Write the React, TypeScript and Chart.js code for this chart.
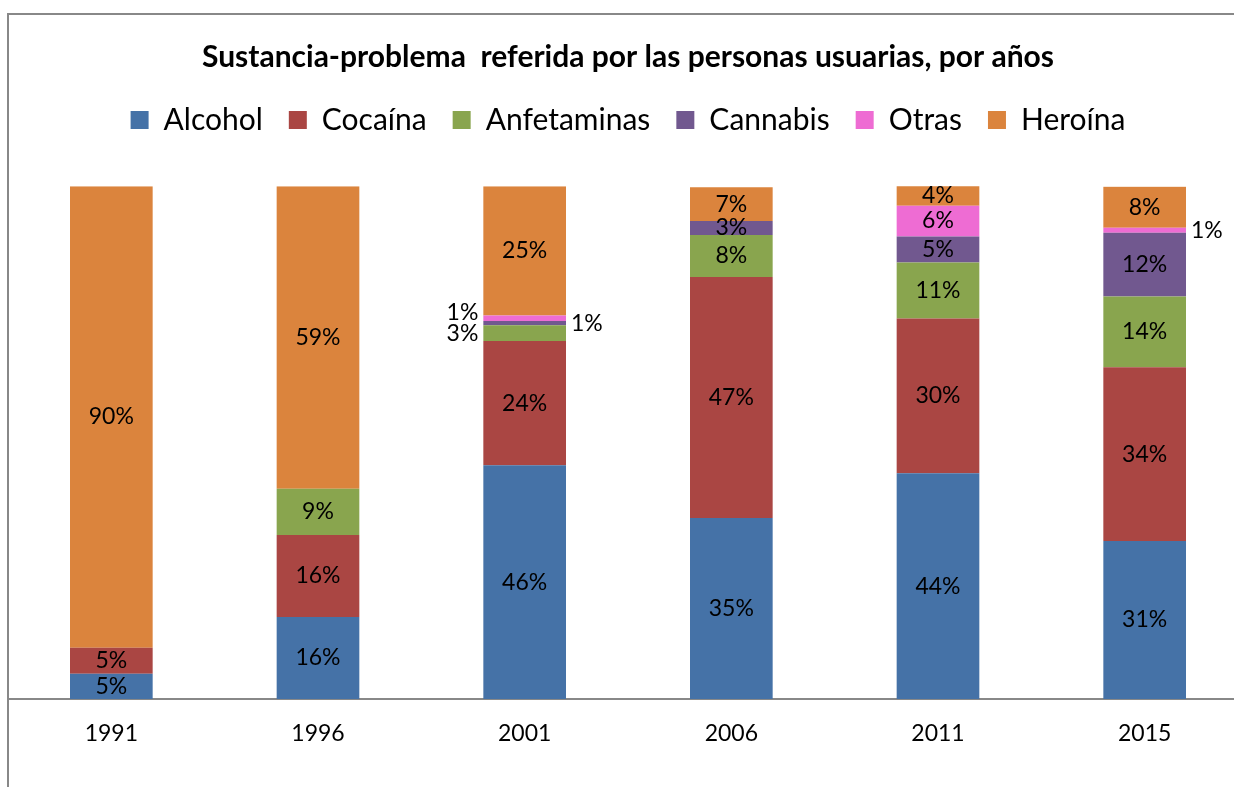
import React, { useEffect, useRef } from 'react';
import { Chart, registerables } from 'chart.js';

Chart.register(...registerables);

const FONT = 'Lato, "Open Sans", sans-serif';

const years = ['1991', '1996', '2001', '2006', '2011', '2015'];
const alcohol = [4.9, 16, 45.6, 35.3, 44, 30.8];
const cocaina = [5.1, 16, 24.2, 47, 30.2, 33.9];
const anfetaminas = [0, 9, 3.1, 8.2, 10.9, 13.8];
const cannabis = [0, 0, 0.8, 2.7, 5.1, 12.4];
const otras = [0, 0, 1.1, 0, 6, 1];
const heroina = [90, 59, 25.2, 6.6, 4.1, 8];

const seriesNames = ['Alcohol', 'Cocaína', 'Anfetaminas', 'Cannabis', 'Otras', 'Heroína'];
const seriesValues = [alcohol, cocaina, anfetaminas, cannabis, otras, heroina];
const seriesColors = ['#4572A7', '#AA4643', '#89A54E', '#71588F', '#EE6CD3', '#DB843D'];

// labels placed beside the bar (segment too thin)
const outsideLabels: Record<string, Record<string, 'left' | 'right'>> = {
  '2001': { Anfetaminas: 'left', Cannabis: 'right', Otras: 'left' },
  '2015': { Otras: 'right' },
};

const segmentLabels = {
  id: 'segmentLabels',
  afterDatasetsDraw(chart: any) {
    const ctx = chart.ctx;
    ctx.save();
    ctx.font = `23px ${FONT}`;
    ctx.fillStyle = '#000';
    ctx.textBaseline = 'middle';
    const leftLast: Record<number, number> = {};
    chart.data.datasets.forEach((ds: any, di: number) => {
      const meta = chart.getDatasetMeta(di);
      meta.data.forEach((bar: any, i: number) => {
        const v = ds.data[i] as number;
        if (!v) return;
        const text = Math.round(v) + '%';
        const side = outsideLabels[years[i]]?.[ds.label];
        let y = (bar.y + bar.base) / 2;
        let x = bar.x;
        const half = bar.width / 2;
        if (side === 'left') {
          ctx.textAlign = 'right';
          x = bar.x - half - 5;
          if (leftLast[i] !== undefined) y = Math.min(y, leftLast[i] - 21);
          leftLast[i] = y;
        } else if (side === 'right') {
          ctx.textAlign = 'left';
          x = bar.x + half + 5;
        } else {
          ctx.textAlign = 'center';
        }
        ctx.fillText(text, x, y);
      });
    });
    ctx.restore();
  },
};

export default function App() {
  const ref = useRef<HTMLCanvasElement | null>(null);

  useEffect(() => {
    if (!ref.current) return;
    const chart = new Chart(ref.current, {
      type: 'bar',
      data: {
        labels: years,
        datasets: seriesNames.map((name, k) => ({
          label: name,
          data: seriesValues[k],
          backgroundColor: seriesColors[k],
          borderWidth: 0,
          barPercentage: 0.4,
          categoryPercentage: 1,
        })),
      },
      options: {
        responsive: false,
        animation: false,
        devicePixelRatio: 1,
        layout: { padding: 0 },
        plugins: {
          title: {
            display: true,
            text: 'Sustancia-problema  referida por las personas usuarias, por años',
            color: '#000',
            font: { family: FONT, size: 30, weight: 'bold' },
            padding: { top: 25, bottom: 4 },
          },
          legend: {
            display: true,
            position: 'top',
            labels: {
              boxWidth: 18,
              boxHeight: 18,
              padding: 26,
              color: '#000',
              font: { family: FONT, size: 30 },
            },
          },
          subtitle: {
            display: true,
            text: '',
            weight: 500,
            font: { size: 1 },
            padding: { top: 40, bottom: 0 },
          } as any,
          tooltip: { enabled: false },
        },
        scales: {
          x: {
            stacked: true,
            grid: { display: false },
            border: { display: true, color: '#888888', width: 2 },
            ticks: {
              color: '#000',
              padding: 13,
              font: { family: FONT, size: 23 },
            },
            afterFit: (scale: any) => {
              scale.height = 88;
            },
          },
          y: {
            stacked: true,
            display: false,
            min: 0,
            max: 100,
          },
        },
      },
      plugins: [segmentLabels],
    });
    return () => chart.destroy();
  }, []);

  return (
    <div style={{ position: 'absolute', left: 0, top: 0, width: 1234, height: 787, overflow: 'hidden', background: '#fff' }}>
      <div
        style={{
          position: 'absolute',
          left: 7,
          top: 13,
          width: 1300,
          height: 800,
          borderLeft: '2px solid #888',
          borderTop: '2px solid #888',
          boxSizing: 'border-box',
        }}
      />
      <canvas
        ref={ref}
        width={1240}
        height={773}
        style={{ position: 'absolute', left: 8, top: 14, width: 1240, height: 773 }}
      />
    </div>
  );
}
